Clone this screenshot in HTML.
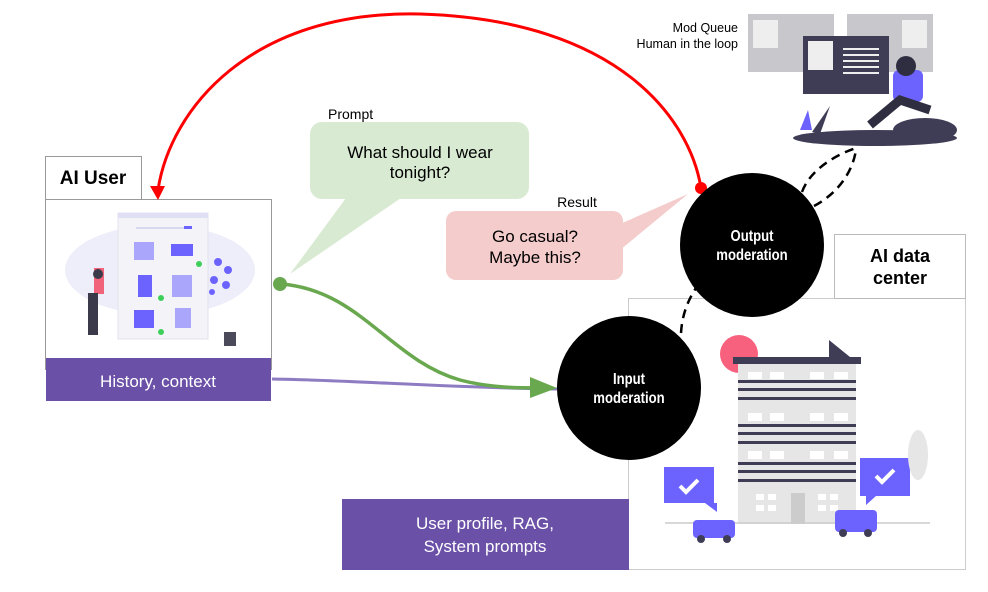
<!DOCTYPE html>
<html><head><meta charset="utf-8"><style>
body{margin:0;background:#fff;}
svg{display:block;font-family:"Liberation Sans",sans-serif;}
</style></head><body>
<svg width="988" height="592" viewBox="0 0 988 592" xmlns="http://www.w3.org/2000/svg">
<!-- AI User box -->
<rect x="45.5" y="156.5" width="96" height="43" fill="#fff" stroke="#999"/>
<text x="93" y="184" font-size="19" font-weight="bold" text-anchor="middle">AI User</text>
<rect x="45.5" y="199.5" width="226" height="170" fill="#fff" stroke="#999"/>
<ellipse cx="160" cy="270" rx="95" ry="45" fill="#eeeefb"/>
<rect x="118" y="213" width="90" height="126" fill="#f4f4f8" stroke="#e2e2ee"/>
<rect x="118" y="213" width="90" height="5" fill="#e0e0f4"/>
<rect x="136" y="227" width="56" height="2" fill="#d8d8ee"/>
<rect x="184" y="226" width="8" height="3" fill="#6c63ff"/>
<g fill="#a9a6fb"><rect x="134" y="242" width="20" height="18"/><rect x="172" y="275" width="20" height="22"/><rect x="175" y="308" width="16" height="20"/></g>
<g fill="#6c63ff"><rect x="171" y="244" width="22" height="12"/><rect x="138" y="275" width="14" height="22"/><rect x="134" y="310" width="20" height="18"/></g>
<g fill="#3ecf5a"><circle cx="199" cy="264" r="3"/><circle cx="161" cy="298" r="3"/><circle cx="161" cy="332" r="3"/></g>
<g fill="#6c63ff"><circle cx="218" cy="262" r="4"/><circle cx="228" cy="270" r="4"/><circle cx="214" cy="280" r="4"/><circle cx="226" cy="285" r="4"/><circle cx="212" cy="292" r="3"/></g>
<rect x="224" y="332" width="12" height="14" fill="#4a4a5a"/>
<rect x="94" y="268" width="10" height="26" fill="#f0637a"/>
<circle cx="98" cy="274" r="5" fill="#3a3a4a"/>
<rect x="88" y="293" width="10" height="42" fill="#3a3a4a"/>
<rect x="46" y="358" width="225" height="43" fill="#6a50a7"/>
<text x="158" y="387" font-size="17" fill="#fff" text-anchor="middle">History, context</text>

<!-- Prompt bubble -->
<text x="328" y="119" font-size="14">Prompt</text>
<path d="M346 198 L290 274 L401 198 Z" fill="#d9ead3"/>
<rect x="310" y="122" width="219" height="77" rx="12" fill="#d9ead3"/>
<text x="420" y="158" font-size="17" text-anchor="middle">What should I wear</text>
<text x="420" y="178" font-size="17" text-anchor="middle">tonight?</text>

<!-- Result bubble -->
<text x="577" y="207" font-size="14" text-anchor="middle">Result</text>
<path d="M620 224 L688 194 L620 250 Z" fill="#f4cccc"/>
<rect x="446" y="211" width="177" height="69" rx="10" fill="#f4cccc"/>
<text x="535" y="242" font-size="17" text-anchor="middle">Go casual?</text>
<text x="535" y="263" font-size="17" text-anchor="middle">Maybe this?</text>

<!-- AI data center -->
<rect x="628.5" y="298.5" width="337" height="271" fill="#fff" stroke="#ccc"/>
<rect x="834.5" y="234.5" width="131" height="64" fill="#fff" stroke="#bbb"/>
<text x="900" y="262" font-size="18" font-weight="bold" text-anchor="middle">AI data</text>
<text x="900" y="284" font-size="18" font-weight="bold" text-anchor="middle">center</text>
<circle cx="739" cy="354" r="19" fill="#f8617e"/>
<rect x="738" y="362" width="118" height="162" fill="#e6e6e6"/>
<rect x="733" y="357" width="128" height="7" fill="#3f3d56"/>
<path d="M829 340 L850 357 L829 357 Z" fill="#3f3d56"/>
<g fill="#fff">
<rect x="748" y="372" width="14" height="7"/><rect x="770" y="372" width="14" height="7"/><rect x="810" y="372" width="14" height="7"/><rect x="834" y="372" width="14" height="7"/>
<rect x="748" y="413" width="14" height="8"/><rect x="770" y="413" width="14" height="8"/><rect x="810" y="413" width="14" height="8"/><rect x="834" y="413" width="14" height="8"/>
<rect x="748" y="451" width="14" height="8"/><rect x="770" y="451" width="14" height="8"/><rect x="810" y="451" width="14" height="8"/><rect x="834" y="451" width="14" height="8"/>
<rect x="756" y="494" width="8" height="6"/><rect x="768" y="494" width="8" height="6"/><rect x="818" y="494" width="8" height="6"/><rect x="830" y="494" width="8" height="6"/>
<rect x="756" y="505" width="8" height="6"/><rect x="768" y="505" width="8" height="6"/><rect x="818" y="505" width="8" height="6"/><rect x="830" y="505" width="8" height="6"/>
</g>
<g fill="#3f3d56">
<rect x="738" y="380" width="118" height="3"/><rect x="738" y="388" width="118" height="3"/><rect x="738" y="397" width="118" height="3"/>
<rect x="738" y="424" width="118" height="3"/><rect x="738" y="432" width="118" height="3"/><rect x="738" y="441" width="118" height="3"/>
<rect x="738" y="462" width="118" height="3"/><rect x="738" y="470" width="118" height="3"/><rect x="738" y="479" width="118" height="3"/>
</g>
<rect x="791" y="493" width="14" height="31" fill="#ccc"/>
<rect x="664" y="467" width="50" height="36" fill="#6c63ff"/>
<path d="M705 503 L717 512 L717 503Z" fill="#6c63ff"/>
<rect x="860" y="458" width="50" height="38" fill="#6c63ff"/>
<path d="M866 496 L866 505 L876 496Z" fill="#6c63ff"/>
<path d="M680 486 l6 6 l12 -12" stroke="#fff" stroke-width="4" fill="none"/>
<path d="M876 476 l6 6 l12 -12" stroke="#fff" stroke-width="4" fill="none"/>
<line x1="665" y1="523" x2="930" y2="523" stroke="#ccc" stroke-width="1.5"/>
<rect x="693" y="520" width="42" height="18" rx="4" fill="#6c63ff"/>
<rect x="835" y="510" width="42" height="22" rx="4" fill="#6c63ff"/>
<g fill="#3f3d56"><circle cx="701" cy="539" r="4"/><circle cx="727" cy="539" r="4"/><circle cx="843" cy="533" r="4"/><circle cx="868" cy="533" r="4"/></g>
<ellipse cx="918" cy="455" rx="10" ry="25" fill="#e6e6e6"/>

<!-- Purple box -->
<rect x="342" y="499" width="287" height="71" fill="#6a50a7"/>
<text x="485" y="529" font-size="17" fill="#fff" text-anchor="middle">User profile, RAG,</text>
<text x="485" y="552" font-size="17" fill="#fff" text-anchor="middle">System prompts</text>

<!-- Mod queue -->
<text x="738" y="32" font-size="12.5" text-anchor="end">Mod Queue</text>
<text x="738" y="48" font-size="12.5" text-anchor="end">Human in the loop</text>
<rect x="748" y="14" width="86" height="58" fill="#c8c8cc"/>
<rect x="847" y="14" width="86" height="58" fill="#c8c8cc"/>
<rect x="753" y="20" width="25" height="28" fill="#eee"/>
<rect x="902" y="20" width="25" height="28" fill="#eee"/>
<rect x="803" y="36" width="86" height="58" fill="#3f3d56"/>
<rect x="808" y="41" width="25" height="29" fill="#eee"/>
<g fill="#eee"><rect x="843" y="48" width="36" height="2"/><rect x="843" y="54" width="36" height="2"/><rect x="843" y="60" width="36" height="2"/><rect x="843" y="66" width="36" height="2"/><rect x="843" y="72" width="36" height="2"/></g>
<ellipse cx="875" cy="138" rx="82" ry="8" fill="#3f3d56"/>
<ellipse cx="925" cy="130" rx="32" ry="12" fill="#3f3d56"/>
<rect x="893" y="70" width="30" height="32" rx="6" fill="#6c63ff"/>
<circle cx="906" cy="66" r="10" fill="#2f2e41"/>
<path d="M870 125 L900 100 L930 110" stroke="#2f2e41" stroke-width="9" fill="none"/>
<path d="M800 130 L808 110 L812 130Z" fill="#6c63ff"/>
<path d="M812 132 L830 106 L820 134Z" fill="#3f3d56"/>

<!-- Connectors -->
<path d="M701 188 C690 120 620 20 420 14 C250 10 170 110 158 190" stroke="#f00" stroke-width="3" fill="none"/>
<path d="M150 186 L158 200 L165 186 Z" fill="#f00"/>
<circle cx="701" cy="188" r="6" fill="#f00"/>
<path d="M272 379 C350 380 450 388 557 389" stroke="#8e7cc3" stroke-width="3" fill="none"/>
<path d="M281 284 C360 290 390 360 460 380 C490 388 520 388 540 388" stroke="#6aa84f" stroke-width="3.5" fill="none"/>
<path d="M530 377 L557 388 L530 398 Z" fill="#6aa84f"/>
<circle cx="280" cy="284" r="7" fill="#6aa84f"/>
<path d="M681 333 C682 315 688 300 696 288" stroke="#000" stroke-width="2.5" stroke-dasharray="9,6" fill="none"/>
<path d="M802 192 C810 170 835 155 856 148" stroke="#000" stroke-width="2.5" stroke-dasharray="9,6" fill="none"/>
<path d="M814 206 C835 195 852 175 856 150" stroke="#000" stroke-width="2.5" stroke-dasharray="9,6" fill="none"/>

<!-- Circles -->
<circle cx="752" cy="245" r="72" fill="#000"/>
<circle cx="629" cy="388" r="72" fill="#000"/>
<g font-size="16" font-weight="bold" fill="#fff" text-anchor="middle">
<text x="752" y="241" transform="translate(752 0) scale(0.82 1) translate(-752 0)">Output</text>
<text x="752" y="260" transform="translate(752 0) scale(0.82 1) translate(-752 0)">moderation</text>
<text x="629" y="384" transform="translate(629 0) scale(0.82 1) translate(-629 0)">Input</text>
<text x="629" y="403" transform="translate(629 0) scale(0.82 1) translate(-629 0)">moderation</text>
</g>
</svg>
</body></html>
